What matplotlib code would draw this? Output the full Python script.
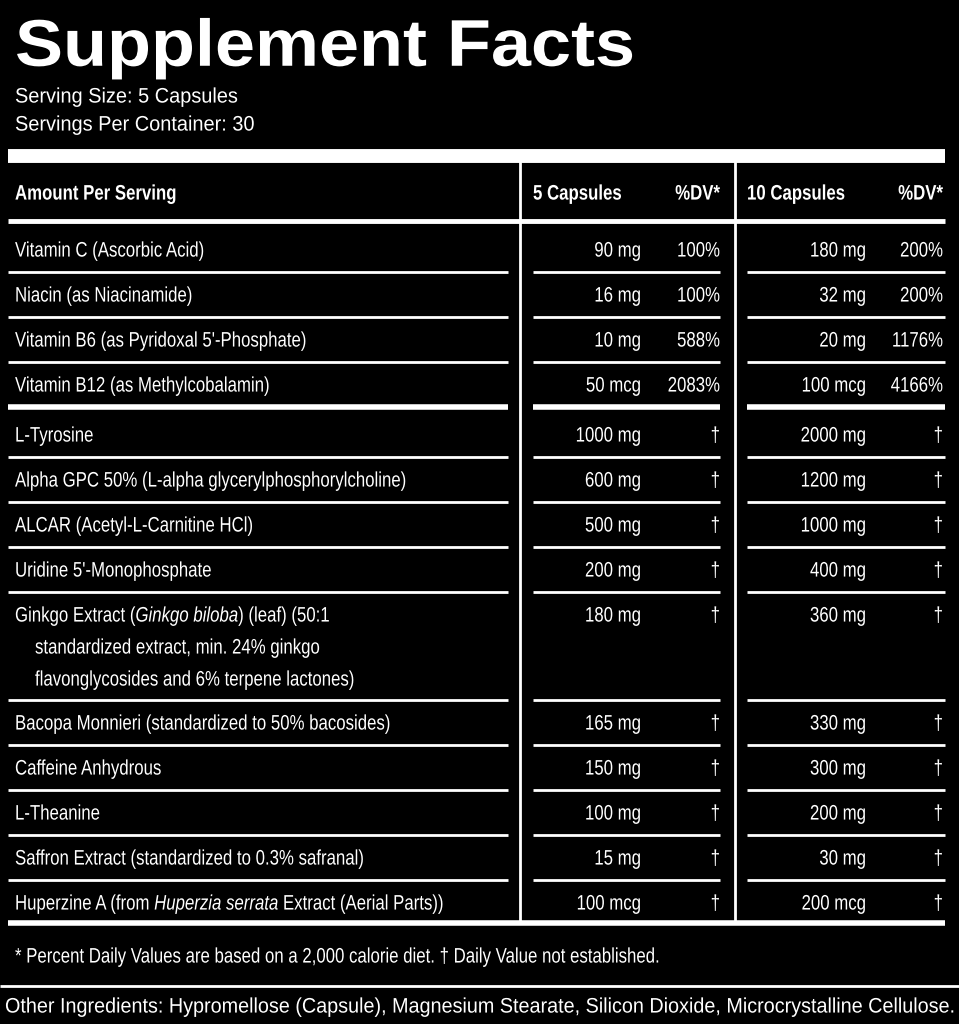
import matplotlib
matplotlib.use("Agg")
import matplotlib.pyplot as plt
from matplotlib.textpath import TextPath, text_to_path
from matplotlib.font_manager import FontProperties
from matplotlib.patches import PathPatch
from matplotlib.transforms import Affine2D

names = [
    "Vitamin C (Ascorbic Acid)", "Niacin (as Niacinamide)",
    "Vitamin B6 (as Pyridoxal 5'-Phosphate)", "Vitamin B12 (as Methylcobalamin)",
    "L-Tyrosine", "Alpha GPC 50% (L-alpha glycerylphosphorylcholine)",
    "ALCAR (Acetyl-L-Carnitine HCl)", "Uridine 5'-Monophosphate",
    [("Ginkgo Extract (", "normal"), ("Ginkgo biloba", "italic"), (") (leaf) (50:1", "normal")],
    "Bacopa Monnieri (standardized to 50% bacosides)", "Caffeine Anhydrous",
    "L-Theanine", "Saffron Extract (standardized to 0.3% safranal)",
    [("Huperzine A (from ", "normal"), ("Huperzia serrata", "italic"), (" Extract (Aerial Parts))", "normal")],
]
ginkgo_extra = ["standardized extract, min. 24% ginkgo", "flavonglycosides and 6% terpene lactones)"]
amt5 = ["90 mg", "16 mg", "10 mg", "50 mcg", "1000 mg", "600 mg", "500 mg", "200 mg",
        "180 mg", "165 mg", "150 mg", "100 mg", "15 mg", "100 mcg"]
dv5 = ["100%", "100%", "588%", "2083%"] + ["†"] * 10
amt10 = ["180 mg", "32 mg", "20 mg", "100 mcg", "2000 mg", "1200 mg", "1000 mg", "400 mg",
         "360 mg", "330 mg", "300 mg", "200 mg", "30 mg", "200 mcg"]
dv10 = ["200%", "200%", "1176%", "4166%"] + ["†"] * 10
row_y = [249, 294, 339, 384, 434, 479, 524, 569, 614, 722, 767, 812, 857, 902]

W = "white"
SIZE = 21      # px
SX = 0.80      # horizontal squeeze to mimic a condensed face

fig = plt.figure(figsize=(9.59, 10.24), dpi=100, facecolor="black")
ax = fig.add_axes([0, 0, 1, 1])
ax.set_facecolor("black")
ax.set_xlim(0, 959)
ax.set_ylim(1024, 0)
ax.axis("off")

def prop(weight="normal", style="normal"):
    return FontProperties(family="Liberation Sans", weight=weight, style=style)

def adv(s, p, size):
    w, h, d = text_to_path.get_text_width_height_descent(s, p.copy(), ismath=False)
    return w * size / p.get_size_in_points()

def ptxt(x, y, s, ha="left", weight="normal", style="normal", size=SIZE, sx=SX, width=None):
    p = prop(weight, style)
    tp = TextPath((0, 0), s, size=size, prop=p)
    w = adv(s, p, size)
    if width is not None:
        sx = width / w
    w *= sx
    x0 = x - w if ha == "right" else x
    base = y + 0.36 * size
    tr = Affine2D().scale(sx, -1).translate(x0, base)
    ax.add_patch(PathPatch(tr.transform_path(tp), fc=W, ec="none", lw=0))
    return x0 + w

def hline(y, x0, x1, lw):
    ax.plot([x0, x1], [y, y], color=W, lw=lw, solid_capstyle="butt")

ptxt(15, 42, "Supplement Facts", weight="bold", size=66, width=620)
ptxt(15, 95, "Serving Size: 5 Capsules", size=21, sx=0.95)
ptxt(15, 123, "Servings Per Container: 30", size=21, sx=0.95)

hline(156, 8, 945, 10)
ptxt(15, 192, "Amount Per Serving", weight="bold")
ptxt(533, 192, "5 Capsules", weight="bold")
ptxt(720, 192, "%DV*", ha="right", weight="bold")
ptxt(747, 192, "10 Capsules", weight="bold")
ptxt(943, 192, "%DV*", ha="right", weight="bold")
hline(221, 8, 945, 3.5)
for x in (520, 735):
    ax.plot([x, x], [162, 922], color=W, lw=2)

for i, y in enumerate(row_y):
    n = names[i]
    if isinstance(n, str):
        ptxt(15, y, n)
    else:
        x = 15
        for part, st in n:
            x = ptxt(x, y, part, style=st)
    ptxt(641, y, amt5[i], ha="right")
    ptxt(720, y, dv5[i], ha="right")
    ptxt(866, y, amt10[i], ha="right")
    ptxt(943, y, dv10[i], ha="right")

ptxt(35, 646, ginkgo_extra[0])
ptxt(35, 678, ginkgo_extra[1])

seps = [272, 317, 362, 457, 502, 547, 592, 700, 745, 790, 835, 880]
for y in seps:
    for x0, x1 in ((8, 508), (533, 720), (747, 945)):
        hline(y, x0, x1, 2)
for x0, x1 in ((8, 508), (533, 720), (747, 945)):
    hline(407, x0, x1, 4)

hline(923, 8, 945, 4)
ptxt(15, 955, "* Percent Daily Values are based on a 2,000 calorie diet. † Daily Value not established.")
hline(986, 0, 959, 2)
ptxt(5, 1005, "Other Ingredients: Hypromellose (Capsule), Magnesium Stearate, Silicon Dioxide, Microcrystalline Cellulose.",
     width=950)

fig.savefig("out.png", dpi=100, facecolor="black")
